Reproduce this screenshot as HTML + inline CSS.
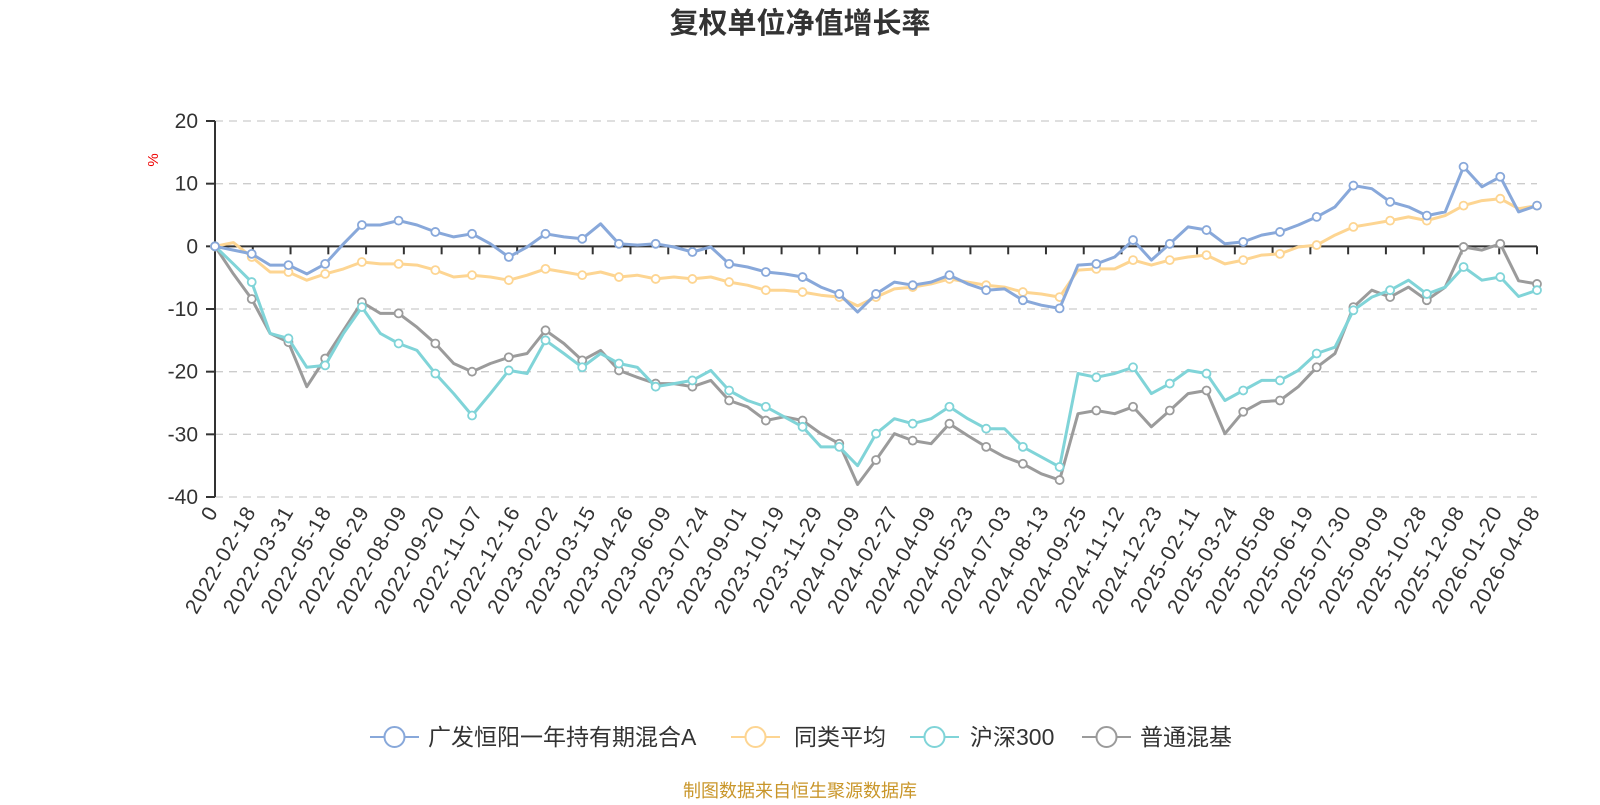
<!DOCTYPE html>
<html><head><meta charset="utf-8">
<style>
html,body{margin:0;padding:0;background:#fff;}
body{width:1600px;height:800px;overflow:hidden;font-family:"Liberation Sans","Noto Sans CJK SC",sans-serif;}
</style></head>
<body>
<svg id="chart" width="1600" height="800" viewBox="0 0 1600 800" xmlns="http://www.w3.org/2000/svg">
<text x="800" y="33" text-anchor="middle" font-size="29" font-weight="bold" fill="#333" font-family="Liberation Sans, Noto Sans CJK SC, sans-serif">复权单位净值增长率</text>
<text x="0" y="0" transform="translate(158,160) rotate(-90)" text-anchor="middle" font-size="15" fill="#e00">%</text>
<g id="grid"></g><g id="axes"></g><g id="series"></g>
<g id="legend"></g>
<text x="800" y="797" text-anchor="middle" font-size="18" fill="#c9962a" font-family="Liberation Sans, Noto Sans CJK SC, sans-serif">制图数据来自恒生聚源数据库</text>
</svg>
<script>
const xTickLabels = ["0","2022-02-18","2022-03-31","2022-05-18","2022-06-29","2022-08-09","2022-09-20","2022-11-07","2022-12-16","2023-02-02","2023-03-15","2023-04-26","2023-06-09","2023-07-24","2023-09-01","2023-10-19","2023-11-29","2024-01-09","2024-02-27","2024-04-09","2024-05-23","2024-07-03","2024-08-13","2024-09-25","2024-11-12","2024-12-23","2025-02-11","2025-03-24","2025-05-08","2025-06-19","2025-07-30","2025-09-09","2025-10-28","2025-12-08","2026-01-20","2026-04-08"];
const yTicks = [20,10,0,-10,-20,-30,-40];
const seriesNames = ["广发恒阳一年持有期混合A","同类平均","沪深300","普通混基"];
const fundValues = [0,-0.6,-1.2,-3,-3,-4.4,-2.8,0.4,3.4,3.4,4.1,3.4,2.3,1.5,2,0.4,-1.7,-0.1,2,1.5,1.2,3.6,0.4,0.2,0.4,-0.1,-0.9,-0.1,-2.8,-3.3,-4.1,-4.4,-4.9,-6.5,-7.6,-10.5,-7.6,-5.7,-6.2,-5.7,-4.6,-6,-7,-6.8,-8.6,-9.4,-9.9,-3,-2.8,-1.7,1,-2.2,0.4,3.1,2.6,0.4,0.7,1.8,2.3,3.4,4.7,6.3,9.7,9.2,7.1,6.3,4.9,5.5,12.7,9.5,11.1,5.5,6.5];
const peerValues = [0,0.6,-1.7,-4.1,-4.1,-5.4,-4.4,-3.6,-2.5,-2.8,-2.8,-3,-3.8,-4.9,-4.6,-4.9,-5.4,-4.6,-3.6,-4.1,-4.6,-4.1,-4.9,-4.6,-5.2,-4.9,-5.2,-4.9,-5.7,-6.2,-7,-7,-7.3,-7.8,-8.1,-9.5,-8.1,-6.8,-6.5,-6,-5.2,-5.7,-6.2,-6.5,-7.3,-7.6,-8.1,-3.8,-3.6,-3.6,-2.2,-3,-2.2,-1.7,-1.4,-2.8,-2.2,-1.4,-1.2,-0.1,0.2,1.8,3.1,3.6,4.1,4.7,4.1,4.9,6.5,7.3,7.6,6,6.5];
const hs300Values = [0,-2.8,-5.7,-13.9,-14.7,-19.3,-19,-13.9,-9.7,-13.9,-15.5,-16.6,-20.3,-23.5,-27,-23.5,-19.8,-20.3,-15,-17.1,-19.3,-17.1,-18.7,-19.3,-22.4,-21.9,-21.4,-19.8,-23,-24.6,-25.6,-27.2,-28.8,-32,-32,-35,-29.9,-27.5,-28.3,-27.5,-25.6,-27.5,-29.1,-29.1,-32,-33.6,-35.2,-20.3,-20.9,-20.3,-19.3,-23.5,-21.9,-19.8,-20.3,-24.6,-23,-21.4,-21.4,-19.8,-17.1,-16.1,-10.2,-8.1,-7,-5.4,-7.6,-6.5,-3.3,-5.4,-4.9,-8,-7];
const mixedValues = [0,-4.4,-8.4,-13.9,-15.3,-22.4,-17.9,-13.4,-8.9,-10.7,-10.7,-12.9,-15.5,-18.7,-20,-18.7,-17.7,-17.1,-13.4,-15.5,-18.2,-16.6,-19.8,-20.9,-21.9,-21.9,-22.4,-21.4,-24.6,-25.6,-27.8,-27.2,-27.8,-29.9,-31.5,-38,-34.1,-29.9,-31,-31.5,-28.3,-30.2,-32,-33.6,-34.7,-36.3,-37.3,-26.7,-26.2,-26.7,-25.6,-28.8,-26.2,-23.5,-23,-29.9,-26.4,-24.8,-24.6,-22.4,-19.3,-17.1,-9.7,-7,-8.1,-6.5,-8.6,-6.5,-0.1,-0.6,0.4,-5.5,-6];

const NS="http://www.w3.org/2000/svg";
const X0=215,X1=1537,Y_TOP=121,Y_BOT=497,VMAX=20,VMIN=-40;
function yScale(v){return Y_TOP+(VMAX-v)/(VMAX-VMIN)*(Y_BOT-Y_TOP);}
function xIndex(i,n){return X0+i*(X1-X0)/(n-1);}
function mk(tag,attrs,parent){const e=document.createElementNS(NS,tag);for(const k in attrs)e.setAttribute(k,attrs[k]);parent.appendChild(e);return e;}
const grid=document.getElementById('grid'),axes=document.getElementById('axes'),ser=document.getElementById('series'),leg=document.getElementById('legend');

yTicks.forEach(v=>{
  const y=yScale(v);
  if(v!==0){const g=mk('line',{x1:X0,x2:X1,y1:y,y2:y,stroke:'#ccc','stroke-width':1.3,'stroke-dasharray':'8,6'},grid);
  
  }
  const t=mk('line',{x1:X0-9,x2:X0,y1:y,y2:y,stroke:'#333','stroke-width':2},axes);
  
  
  const l=mk('text',{x:X0-17,y:y+7,'text-anchor':'end','font-size':21,fill:'#333'},axes);
  l.textContent=v;
  
  
});
const ya=mk('line',{x1:X0,x2:X0,y1:Y_TOP,y2:Y_BOT,stroke:'#333','stroke-width':2},axes);


const y0=yScale(0);
const xa=mk('line',{x1:X0,x2:X1,y1:y0,y2:y0,stroke:'#333','stroke-width':2},axes);


xTickLabels.forEach((lab,i)=>{
  const x=xIndex(i,xTickLabels.length);
  const t=mk('line',{x1:x,x2:x,y1:y0,y2:y0+8,stroke:'#333','stroke-width':2},axes);
  
  
  const tx=mk('text',{x:0,y:0,transform:`translate(${x+4},${Y_BOT+14}) rotate(-60)`,'text-anchor':'end','font-size':21,'letter-spacing':'1.3',fill:'#333'},axes);
  tx.textContent=lab;
  
  
});

const colors=['#88a8da','#fdd592','#80d4d8','#9b9b9b'];
const allSeries=[fundValues,peerValues,hs300Values,mixedValues];
const sNames=['fund-line','peer-average-line','hs300-line','mixed-fund-line'];
[3,2,1,0].forEach(s=>{
  const vals=allSeries[s];
  const g=mk('g',{},ser);
  
  
  const pts=vals.map((v,i)=>xIndex(i,vals.length).toFixed(1)+','+yScale(v).toFixed(1)).join(' ');
  const pl=mk('polyline',{points:pts,fill:'none',stroke:colors[s],'stroke-width':3,'stroke-linejoin':'round'},g);
  
  
  vals.forEach((v,i)=>{ if(i%2) return;
    const c=mk('circle',{cx:xIndex(i,vals.length),cy:yScale(v),r:4,fill:'#fff',stroke:colors[s],'stroke-width':1.8},g);
    
    
  });
});

const legX=[370,731,910,1082],legTx=[428,794,970,1140];
seriesNames.forEach((n,s)=>{
  const g=mk('g',{},leg);
  
  
  mk('line',{x1:legX[s],x2:legX[s]+49,y1:737,y2:737,stroke:colors[s],'stroke-width':2},g);
  mk('circle',{cx:legX[s]+24.5,cy:737,r:10,fill:'#fff',stroke:colors[s],'stroke-width':2},g);
  const t=mk('text',{x:legTx[s],y:745,'font-size':23,fill:'#333'},g);
  t.textContent=n;
  
  
});
</script>
</body></html>
